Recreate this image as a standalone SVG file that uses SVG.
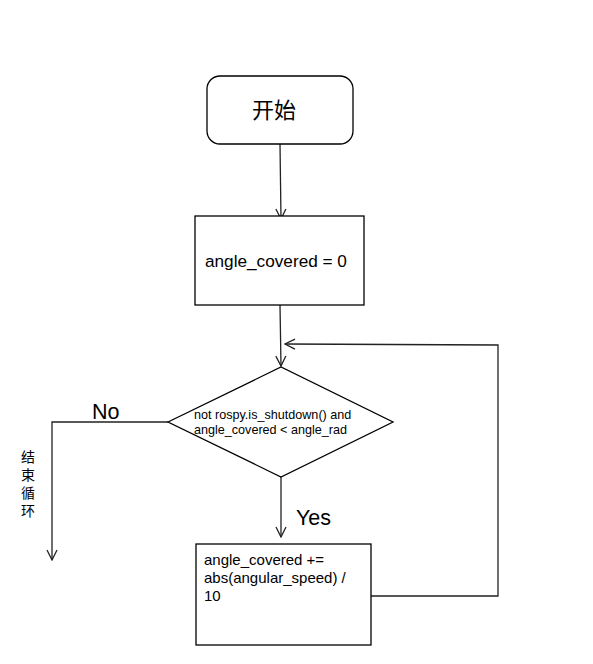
<svg xmlns="http://www.w3.org/2000/svg" width="593" height="664" viewBox="0 0 593 664">
<style>
.shape{fill:#fff;stroke:#000;stroke-width:1.3}
.conn{fill:none;stroke:#222;stroke-width:1.3}
text{font-family:"Liberation Sans",Arial,"Noto Sans CJK SC",sans-serif;fill:#000}
</style>
<defs>
<marker id="arr" viewBox="0 0 12 12" refX="11" refY="6" markerWidth="12" markerHeight="12" markerUnits="userSpaceOnUse" orient="auto">
<path d="M1,1 L11,6 L1,11" fill="none" stroke="#222" stroke-width="1.3"/>
</marker>
</defs>
<rect width="593" height="664" fill="#fff"/>
<g id="connectors">
<path class="conn" d="M280,144 L281,219" marker-end="url(#arr)"/>
<path class="conn" d="M280,305 L281,366" marker-end="url(#arr)"/>
<path class="conn" d="M371,596 L498,596 L498,345 L285,344" marker-end="url(#arr)"/>
<path class="conn" d="M168,422 L52,422 L52,560" marker-end="url(#arr)"/>
<path class="conn" d="M281,477 L281,537" marker-end="url(#arr)"/>
</g>
<g id="start">
<rect class="shape" x="207" y="76" width="146" height="68" rx="13"/>
<text x="274" y="118" font-size="22" text-anchor="middle">开始</text>
</g>
<g id="init">
<rect class="shape" x="195" y="216" width="169" height="89"/>
<text x="205" y="267" font-size="17.2">angle_covered = 0</text>
</g>
<g id="cond">
<polygon class="shape" points="168,422 281,367 393,422 281,477"/>
<text x="194" y="419" font-size="12.6">not rospy.is_shutdown() and</text>
<text x="194" y="434" font-size="12.6">angle_covered &lt; angle_rad</text>
</g>
<g id="update">
<rect class="shape" x="196" y="544" width="175" height="101"/>
<text x="204" y="565" font-size="15">angle_covered +=</text>
<text x="204" y="583" font-size="15">abs(angular_speed) /</text>
<text x="204" y="601" font-size="15">10</text>
</g>
<g id="labels">
<text x="92" y="419" font-size="21.5">No</text>
<text x="296" y="525" font-size="21.5">Yes</text>
<text x="28" y="462" font-size="14" text-anchor="middle">结</text>
<text x="28" y="480" font-size="14" text-anchor="middle">束</text>
<text x="28" y="498" font-size="14" text-anchor="middle">循</text>
<text x="28" y="516" font-size="14" text-anchor="middle">环</text>
</g>
</svg>
